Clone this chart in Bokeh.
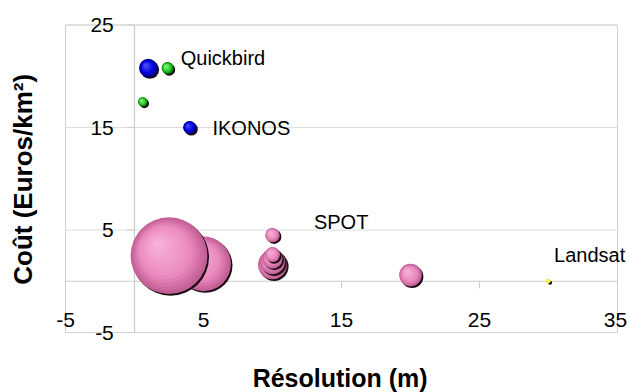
import math
from bokeh.plotting import figure
from bokeh.models import ColumnDataSource, LabelSet, Label
from bokeh.core.properties import value
from bokeh.embed import file_html
from bokeh.resources import INLINE

# ---------------- data ----------------
spot_res = [20, 10, 10, 10, 10, 10, 5, 2.5]
spot_cost = [0.6, 1.6, 1.9, 2.2, 2.6, 4.5, 1.7, 2.5]
spot_size = [5.1, 8.4, 6.25, 4.0, 2.25, 2.1, 30, 59]

ikonos_res = [1, 4]
ikonos_cost = [20.8, 15]
ikonos_size = [3.4, 1.7]

quickbird_res = [0.6, 2.4]
quickbird_cost = [17.5, 20.8]
quickbird_size = [0.88, 1.44]

landsat_res = [30]
landsat_cost = [0]
landsat_size = [0.16]

series_names = ["SPOT", "IKONOS", "Quickbird", "Landsat"]
series_label_x = [13.0, 5.65, 3.35, 30.4]
series_label_y = [5.8, 15.0, 21.8, 2.6]

x_ticks = [-5, 5, 15, 25, 35]
x_tick_labels = ["-5", "5", "15", "25", "35"]
y_ticks = [-5, 5, 15, 25]
y_tick_labels = ["-5", "5", "15", "25"]

x_title = "Résolution (m)"
y_title = "Coût  (Euros/km²)"

# ---------------- layout ----------------
W, H = 629, 392
# plot-area (axis box) position on the canvas, in pixels
FL, FR, FT, FB = 65, 617, 24.5, 332
X0, X1 = -5, 35
Y0, Y1 = -5, 25
px_x = (FR - FL) / (X1 - X0)
px_y = (FB - FT) / (Y1 - Y0)
xr = (X0 - FL / px_x, X1 + (W - FR) / px_x)
yr = (Y0 - (H - FB) / px_y, Y1 + FT / px_y)
FONT = "Liberation Sans"

p = figure(width=W, height=H, x_range=xr, y_range=yr,
           x_axis_type=None, y_axis_type=None,
           output_backend="svg", toolbar_location=None,
           min_border=0, min_border_left=0, min_border_right=0,
           min_border_top=0, min_border_bottom=0,
           background_fill_color="white", border_fill_color="white",
           outline_line_color=None)

# gridlines (major unit 10 from -5)
p.segment(x0=[X0] * len(y_ticks), x1=[X1] * len(y_ticks), y0=y_ticks, y1=y_ticks,
          line_color="#dedede", line_width=1)
# plot-area border
p.quad(left=[X0], right=[X1], bottom=[Y0], top=[Y1], fill_color=None,
       line_color="#d2d2d2", line_width=1)
# axes crossing at 0
p.segment(x0=[X0, 0], x1=[X1, 0], y0=[0, Y0], y1=[0, Y1],
          line_color="#cccccc", line_width=1.2)

# tick marks
p.ray(x=x_ticks, y=[0] * len(x_ticks), length=7, length_units="screen",
      angle=-math.pi / 2, line_color="#cccccc", line_width=1)
p.ray(x=[0] * len(y_ticks), y=y_ticks, length=8, length_units="screen",
      angle=math.pi, line_color="#cccccc", line_width=1)


def mix(c1, c2, f):
    f = max(0.0, min(1.0, f))
    return "#%02x%02x%02x" % tuple(int(round(a + (b - a) * f)) for a, b in zip(c1, c2))


def shade(t, edge, body, light):
    if t < 0.3:
        return mix(edge, body, t / 0.3)
    return mix(body, light, (t - 0.3) / 0.7)


SCALE = 5.0
N = 14


def draw_bubbles(xs, ys, sizes, edge, body, light):
    for x, y, s in zip(xs, ys, sizes):
        r = SCALE * math.sqrt(s)
        data = {"x": [], "y": [], "d": [], "c": []}
        # dark rim at lower right
        data["x"].append(x + 1.6 / px_x)
        data["y"].append(y - 1.6 / px_y)
        data["d"].append(2 * r)
        data["c"].append("#1c0e16")
        for i in range(N):
            t = i / N
            ri = r * (1 - t)
            data["x"].append(x - 0.33 * r * t / px_x)
            data["y"].append(y + 0.33 * r * t / px_y)
            data["d"].append(2 * ri)
            data["c"].append(shade(t, edge, body, light))
        p.scatter("x", "y", size="d", fill_color="c", line_color=None,
                  source=ColumnDataSource(data))


PINK = ((195, 96, 150), (234, 138, 190), (250, 182, 218))
BLUE = ((0, 0, 130), (0, 0, 225), (90, 90, 255))
GREEN = ((0, 120, 0), (40, 200, 40), (150, 255, 150))
YELLOW = ((200, 200, 0), (255, 255, 0), (255, 255, 160))

draw_bubbles(spot_res, spot_cost, spot_size, *PINK)
draw_bubbles(ikonos_res, ikonos_cost, ikonos_size, *BLUE)
draw_bubbles(quickbird_res, quickbird_cost, quickbird_size, *GREEN)
draw_bubbles(landsat_res, landsat_cost, landsat_size, *YELLOW)

# tick labels
xlab_y = -3.78
ylab_x = -1.5
x_offsets = [0] * (len(x_ticks) - 1) + [-2]
p.add_layout(LabelSet(x="x", y="y", text="t", x_offset="o",
                      source=ColumnDataSource(dict(x=x_ticks, y=[xlab_y] * len(x_ticks),
                                                   t=x_tick_labels, o=x_offsets)),
                      text_font=value(FONT), text_font_size=value("21px"),
                      text_align="center", text_baseline="middle", text_color="black"))
p.add_layout(LabelSet(x="x", y="y", text="t",
                      source=ColumnDataSource(dict(x=[ylab_x] * len(y_ticks), y=y_ticks,
                                                   t=y_tick_labels)),
                      text_font=value(FONT), text_font_size=value("21px"),
                      text_align="right", text_baseline="middle", text_color="black"))

# series labels
p.add_layout(LabelSet(x="x", y="y", text="t",
                      source=ColumnDataSource(dict(x=series_label_x, y=series_label_y,
                                                   t=series_names)),
                      text_font=value(FONT), text_font_size=value("20px"),
                      text_align="left", text_baseline="middle", text_color="black"))

# axis titles
p.add_layout(Label(x=14.9, y=-9.4, text=x_title, text_font=FONT,
                   text_font_size="25px", text_font_style="bold",
                   text_align="center", text_baseline="middle", text_color="black"))
p.add_layout(Label(x=-8.1, y=10.3, text=y_title, text_font=FONT,
                   text_font_size="26px", text_font_style="bold", angle=math.pi / 2,
                   text_align="center", text_baseline="middle", text_color="black"))

open("out.html", "w").write(file_html(p, INLINE))
